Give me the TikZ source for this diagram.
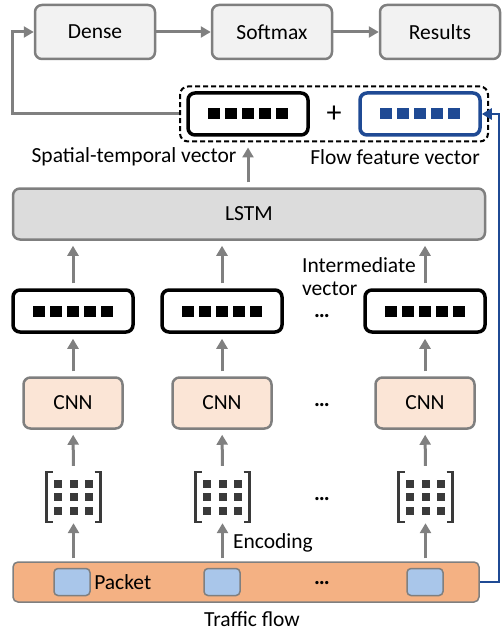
\documentclass[tikz,border=0pt]{standalone}
\usepackage{fontspec}
\setmainfont{Carlito}
\usepackage{xcolor}
\usetikzlibrary{arrows.meta}

\definecolor{boxgray}{HTML}{7F7F7F}
\definecolor{arrgray}{HTML}{808080}
\definecolor{topfill}{HTML}{F2F2F2}
\definecolor{lstmfill}{HTML}{DCDCDC}
\definecolor{cnnfill}{HTML}{FBE5D6}
\definecolor{flowfill}{HTML}{F4B183}
\definecolor{pktfill}{HTML}{A9C6EA}
\definecolor{flowblue}{HTML}{1F4A94}
\definecolor{mtxgray}{HTML}{3A3A3A}

\tikzset{
  topbox/.style={draw=boxgray, line width=2.5pt, fill=topfill, rounded corners=7pt, minimum width=120pt, minimum height=54pt},
  cnnbox/.style={draw=boxgray, line width=2.5pt, fill=cnnfill, rounded corners=7pt, minimum width=99pt, minimum height=51pt},
  vecbox/.style={draw=black, line width=3.5pt, fill=white, rounded corners=7pt, minimum width=120pt, minimum height=42pt},
  sumbox/.style={draw=black, line width=2pt, dash pattern=on 5pt off 3pt, rounded corners=8pt, minimum width=308pt, minimum height=55pt},
  pktbox/.style={draw=boxgray, line width=1.5pt, fill=pktfill, rounded corners=4pt, minimum width=36pt, minimum height=27pt},
  mtxbox/.style={inner sep=0pt, minimum width=56pt, minimum height=52pt},
  dotsnode/.style={inner sep=0pt, font=\fontsize{22}{22}\selectfont\bfseries},
  arr/.style={draw=arrgray, line width=3pt, -{Triangle[length=10pt,width=11pt]}},
  gap/.style={shorten <=5pt, shorten >=5pt},
  bluearr/.style={draw=flowblue, line width=2.5pt, -{Triangle[length=10pt,width=11pt]}},
  brk/.style={draw=mtxgray, line width=2.5pt},
}

\newcommand{\vecsquares}[2]{%
  \foreach \k in {-2,...,2}
    \fill[#2] ([xshift=\k*17pt-6pt,yshift=-5.5pt]#1.center) rectangle ++(12pt,11pt);
}
\newcommand{\mtxdraw}[1]{%
  \draw[brk] ([xshift=-21pt,yshift=25pt]#1.center) -- ++(-6pt,0) -- ++(0,-50pt) -- ++(6pt,0);
  \draw[brk] ([xshift=21pt,yshift=25pt]#1.center) -- ++(6pt,0) -- ++(0,-50pt) -- ++(-6pt,0);
  \foreach \i in {-1,0,1}
    \foreach \j in {-1,0,1}
      \fill[mtxgray] ([xshift=\i*15.5pt-4pt,yshift=\j*13.5pt-4pt]#1.center) rectangle ++(8pt,8pt);
}

\begin{document}
\begin{tikzpicture}[x=1pt, y=-1pt, font=\fontsize{21.5}{23}\selectfont]

  \useasboundingbox (0,0) rectangle (501,631);

  % output layers
  \node[topbox] (dense) at (95,32) {Dense};
  \node[topbox] (softmax) at (272,32) {Softmax};
  \node[topbox] (results) at (440,32) {Results};

  % concatenated vectors
  \node[sumbox] (sum) at (334,114) {};
  \node[vecbox] (svec) at (248,114) {};
  \node[font=\fontsize{30}{30}\selectfont] (plus) at (334,114) {+};
  \node[vecbox, draw=flowblue] (fvec) at (420,114) {};
  \vecsquares{svec}{black}
  \vecsquares{fvec}{flowblue}
  \node (stlabel) at (134,157) {Spatial-temporal vector};
  \node (fflabel) at (395,157) {Flow feature vector};

  \node[topbox, fill=lstmfill, minimum width=472pt, minimum height=51pt] (lstm) at (249,214) {LSTM};

  % intermediate vectors
  \node[vecbox] (iv1) at (73,311) {};
  \node[vecbox] (iv2) at (222,311) {};
  \node[vecbox] (iv3) at (425,311) {};
  \vecsquares{iv1}{black}
  \vecsquares{iv2}{black}
  \vecsquares{iv3}{black}
  \node[dotsnode] (ivdots) at (322,316) {\dots};
  \node[anchor=west, align=left, inner sep=0pt] (ivlabel) at (302,277) {Intermediate\\vector};

  % cnn
  \node[cnnbox] (cnn1) at (73,403) {CNN};
  \node[cnnbox] (cnn2) at (222,403) {CNN};
  \node[cnnbox] (cnn3) at (425,403) {CNN};
  \node[dotsnode] (cnndots) at (322,405) {\dots};

  % encoded packets
  \node[mtxbox] (m1) at (73.5,497) {};
  \node[mtxbox] (m2) at (222.5,497) {};
  \node[mtxbox] (m3) at (425.5,497) {};
  \mtxdraw{m1}
  \mtxdraw{m2}
  \mtxdraw{m3}
  \node[dotsnode] (mdots) at (322,499) {\dots};

  % traffic flow
  \node[draw=boxgray, line width=1.5pt, fill=flowfill, rounded corners=5pt, minimum width=466pt, minimum height=40pt] (flow) at (246,582) {};
  \node[pktbox] (p1) at (72,582) {};
  \node[pktbox] (p2) at (222,582) {};
  \node[pktbox] (p3) at (425,582) {};
  \node[anchor=west] (pktlabel) at (p1.east) {Packet};
  \node[dotsnode] (flowdots) at (322,583) {\dots};
  \node (enclabel) at (273,543) {Encoding};
  \node (flowlabel) at (252,619) {Traffic flow};

  % connectors
  \draw[arr] (dense) -- (softmax);
  \draw[arr] (softmax) -- (results);
  \draw[arr] (sum.west) -- ++(-167,0) |- (dense.west);
  \draw[arr, gap] (lstm.north -| svec) -- (sum.south -| svec);
  \draw[bluearr] (flow.east) -- ++(19,0) |- (fvec.east);

  \draw[arr, gap] (iv1) -- (iv1 |- lstm.south);
  \draw[arr, gap] (iv2) -- (iv2 |- lstm.south);
  \draw[arr, gap] (iv3) -- (iv3 |- lstm.south);

  \draw[arr, gap] (cnn1) -- (iv1);
  \draw[arr, gap] (cnn2) -- (iv2);
  \draw[arr, gap] (cnn3) -- (iv3);

  \draw[arr, gap] (m1) -- (cnn1);
  \draw[arr, gap] (m2) -- (cnn2);
  \draw[arr, gap] (m3) -- (cnn3);

  \draw[arr, shorten <=3pt] (m1 |- flow.north) -- (m1.south);
  \draw[arr, shorten <=3pt] (m2 |- flow.north) -- (m2.south);
  \draw[arr, shorten <=3pt] (m3 |- flow.north) -- (m3.south);

\end{tikzpicture}
\end{document}
